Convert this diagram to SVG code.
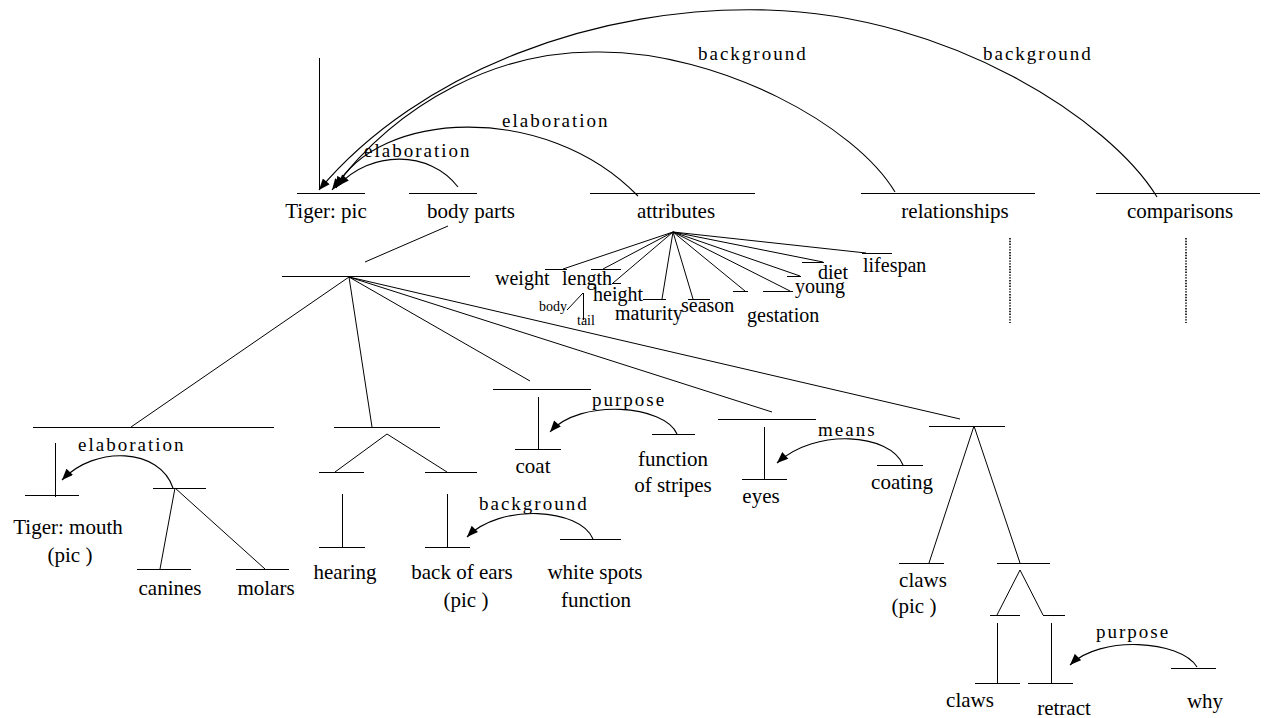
<svg xmlns="http://www.w3.org/2000/svg" width="1267" height="718" viewBox="0 0 1267 718">
<defs>
<marker id="arr" viewBox="0 0 10 8" refX="10" refY="4" markerWidth="12" markerHeight="9" markerUnits="userSpaceOnUse" orient="auto"><path d="M0,0 L10,4 L0,8 z" fill="#000"/></marker>
</defs>
<style>
line { stroke:#000; stroke-width:1; fill:none }
.arc { stroke:#000; stroke-width:1.1; fill:none; marker-end:url(#arr) }
.dot { stroke:#000; stroke-width:1.6; stroke-dasharray:1.4 1.4 }
text { font-family:"Liberation Serif","Times New Roman",serif; fill:#000 }
.n { font-size:21px; text-anchor:middle }
.a { font-size:20px }
.s { font-size:14px }
.r { font-size:19px; letter-spacing:2px }
</style>
<rect width="1267" height="718" fill="#fff"/>

<g id="n-tiger-pic"><line x1="297" y1="193.5" x2="365" y2="193.5"/><line x1="319.5" y1="58" x2="319.5" y2="190"/><text class="n" x="326" y="218">Tiger: pic</text></g>
<g id="n-body-parts"><line x1="409" y1="193.5" x2="477" y2="193.5"/><text class="n" x="471" y="218">body parts</text></g>
<g id="n-attributes"><line x1="590" y1="193.5" x2="755" y2="193.5"/><text class="n" x="676" y="218">attributes</text></g>
<g id="n-relationships"><line x1="861" y1="193.5" x2="1035" y2="193.5"/><text class="n" x="955" y="218">relationships</text><line class="dot" x1="1010" y1="238" x2="1010" y2="323"/></g>
<g id="n-comparisons"><line x1="1096" y1="193.5" x2="1260" y2="193.5"/><text class="n" x="1180" y="218">comparisons</text><line class="dot" x1="1186" y1="238" x2="1186" y2="323"/></g>

<g id="n-weight"><line x1="545" y1="269.5" x2="567" y2="269.5"/><text class="a" x="495" y="285">weight</text></g>
<g id="n-length"><line x1="591" y1="269.5" x2="621" y2="269.5"/><text class="a" x="562" y="285">length</text></g>
<g id="n-body"><text class="s" x="539" y="311">body</text></g>
<g id="n-tail"><text class="s" x="577" y="325">tail</text></g>
<g id="n-height"><line x1="612" y1="283.5" x2="621" y2="283.5"/><text class="a" x="593" y="301">height</text></g>
<g id="n-maturity"><line x1="643" y1="299.5" x2="666" y2="299.5"/><text class="a" x="615" y="320">maturity</text></g>
<g id="n-season"><line x1="688" y1="299.5" x2="710" y2="299.5"/><text class="a" x="681" y="312">season</text></g>
<g id="n-gestation"><line x1="733" y1="291.5" x2="748" y2="291.5"/><text class="a" x="747" y="322">gestation</text></g>
<g id="n-young"><line x1="763" y1="291.5" x2="793" y2="291.5"/><text class="a" x="795" y="293">young</text></g>
<g id="n-diet"><line x1="787" y1="276.5" x2="801" y2="276.5"/><line x1="802" y1="262.5" x2="824" y2="262.5"/><text class="a" x="818" y="279">diet</text></g>
<g id="n-lifespan"><line x1="862" y1="253.5" x2="892" y2="253.5"/><text class="a" x="863" y="272">lifespan</text></g>

<g id="n-bodyparts-root"><line x1="282" y1="276.5" x2="470" y2="276.5"/></g>

<g id="n-mouth-group"><line x1="33" y1="427.5" x2="274" y2="427.5"/></g>
<g id="n-tiger-mouth"><line x1="25" y1="495.5" x2="79" y2="495.5"/><line x1="55.5" y1="443" x2="55.5" y2="497"/><text class="n" x="68" y="534">Tiger: mouth</text><text class="n" x="70" y="562">(pic )</text></g>
<g id="n-teeth"><line x1="153" y1="488.5" x2="206" y2="488.5"/></g>
<g id="n-canines"><line x1="137" y1="569.5" x2="191" y2="569.5"/><text class="n" x="170" y="595">canines</text></g>
<g id="n-molars"><line x1="236" y1="569.5" x2="289" y2="569.5"/><text class="n" x="266" y="595">molars</text></g>

<g id="n-ears-group"><line x1="334" y1="427.5" x2="440" y2="427.5"/><line x1="319" y1="472.5" x2="364" y2="472.5"/><line x1="425" y1="472.5" x2="477" y2="472.5"/></g>
<g id="n-hearing"><line x1="342.5" y1="494" x2="342.5" y2="547"/><line x1="319" y1="547.5" x2="365" y2="547.5"/><text class="n" x="345" y="579">hearing</text></g>
<g id="n-back-of-ears"><line x1="447.5" y1="494" x2="447.5" y2="547"/><line x1="425" y1="547.5" x2="470" y2="547.5"/><text class="n" x="462" y="579">back of ears</text><text class="n" x="466" y="607">(pic )</text></g>
<g id="n-white-spots"><line x1="560" y1="539.5" x2="621" y2="539.5"/><text class="n" x="595" y="579">white spots</text><text class="n" x="596" y="607">function</text></g>

<g id="n-coat"><line x1="493" y1="389.5" x2="591" y2="389.5"/><line x1="538.5" y1="397" x2="538.5" y2="449"/><line x1="515" y1="449.5" x2="561" y2="449.5"/><text class="n" x="533" y="473">coat</text></g>
<g id="n-function-stripes"><line x1="652" y1="434.5" x2="695" y2="434.5"/><text class="n" x="673" y="466">function</text><text class="n" x="673" y="492">of stripes</text></g>

<g id="n-eyes"><line x1="718" y1="419.5" x2="816" y2="419.5"/><line x1="764.5" y1="427" x2="764.5" y2="479"/><line x1="742" y1="479.5" x2="787" y2="479.5"/><text class="n" x="761" y="503">eyes</text></g>
<g id="n-coating"><line x1="877" y1="465.5" x2="923" y2="465.5"/><text class="n" x="902" y="489">coating</text></g>

<g id="n-claws-group"><line x1="929" y1="426.5" x2="1005" y2="426.5"/></g>
<g id="n-claws-pic"><line x1="899" y1="563.5" x2="944" y2="563.5"/><text class="n" x="923" y="587">claws</text><text class="n" x="914" y="613">(pic )</text></g>
<g id="n-claws-sub"><line x1="997" y1="563.5" x2="1050" y2="563.5"/><line x1="990" y1="615.5" x2="1020" y2="615.5"/><line x1="1043" y1="615.5" x2="1065" y2="615.5"/></g>
<g id="n-claws"><line x1="997.5" y1="623" x2="997.5" y2="683"/><line x1="975" y1="683.5" x2="1020" y2="683.5"/><text class="n" x="970" y="707">claws</text></g>
<g id="n-retract"><line x1="1051.5" y1="623" x2="1051.5" y2="683"/><line x1="1028" y1="683.5" x2="1073" y2="683.5"/><text class="n" x="1064" y="715">retract</text></g>
<g id="n-why"><line x1="1171" y1="668.5" x2="1216" y2="668.5"/><text class="n" x="1205" y="708">why</text></g>

<g id="connectors">
<line x1="448" y1="226" x2="365" y2="262"/>
<line x1="349" y1="277" x2="131" y2="427"/>
<line x1="349" y1="277" x2="372" y2="427"/>
<line x1="349" y1="277" x2="530" y2="381"/>
<line x1="349" y1="277" x2="772" y2="412"/>
<line x1="349" y1="277" x2="960" y2="419"/>
<line x1="175" y1="488" x2="160" y2="569"/>
<line x1="175" y1="488" x2="265" y2="569"/>
<line x1="387" y1="434" x2="335" y2="472"/>
<line x1="387" y1="434" x2="447" y2="472"/>
<line x1="974" y1="426" x2="929" y2="563"/>
<line x1="974" y1="426" x2="1020" y2="563"/>
<line x1="1020" y1="570" x2="997" y2="615"/>
<line x1="1020" y1="570" x2="1043" y2="615"/>
<line x1="673" y1="232" x2="563" y2="269"/>
<line x1="673" y1="232" x2="603" y2="269"/>
<line x1="673" y1="232" x2="613" y2="283"/>
<line x1="673" y1="232" x2="662" y2="299"/>
<line x1="673" y1="232" x2="693" y2="299"/>
<line x1="673" y1="232" x2="745" y2="291"/>
<line x1="673" y1="232" x2="790" y2="291"/>
<line x1="673" y1="232" x2="800" y2="276"/>
<line x1="673" y1="232" x2="823" y2="262"/>
<line x1="673" y1="232" x2="866" y2="253"/>
<line x1="583" y1="293" x2="567" y2="310"/>
<line x1="583.5" y1="293" x2="583.5" y2="320"/>
<path class="arc" d="M1157,197 C1110,120 950,15 767,10 C600,5 420,70 319,190"/>
<path class="arc" d="M895,192 C855,125 720,52 600,52 C500,50 400,100 332,190"/>
<path class="arc" d="M638,196 C545,100 376,111 336,188"/>
<path class="arc" d="M458,187 C430,150 370,150 338,186"/>
<path class="arc" d="M173,488 C160,448 95,445 62,480"/>
<path class="arc" d="M677,434 C665,405 580,398 550,432"/>
<path class="arc" d="M903,465 C890,433 815,428 777,463"/>
<path class="arc" d="M593,539 C580,508 500,503 467,537"/>
<path class="arc" d="M1197,667 C1180,640 1100,635 1070,665"/>
<text class="r" x="698" y="60">background</text>
<text class="r" x="983" y="60">background</text>
<text class="r" x="502" y="127">elaboration</text>
<text class="r" x="364" y="157">elaboration</text>
<text class="r" x="78" y="451">elaboration</text>
<text class="r" x="592" y="406">purpose</text>
<text class="r" x="818" y="436">means</text>
<text class="r" x="479" y="510">background</text>
<text class="r" x="1096" y="638">purpose</text>
</g>
</svg>
